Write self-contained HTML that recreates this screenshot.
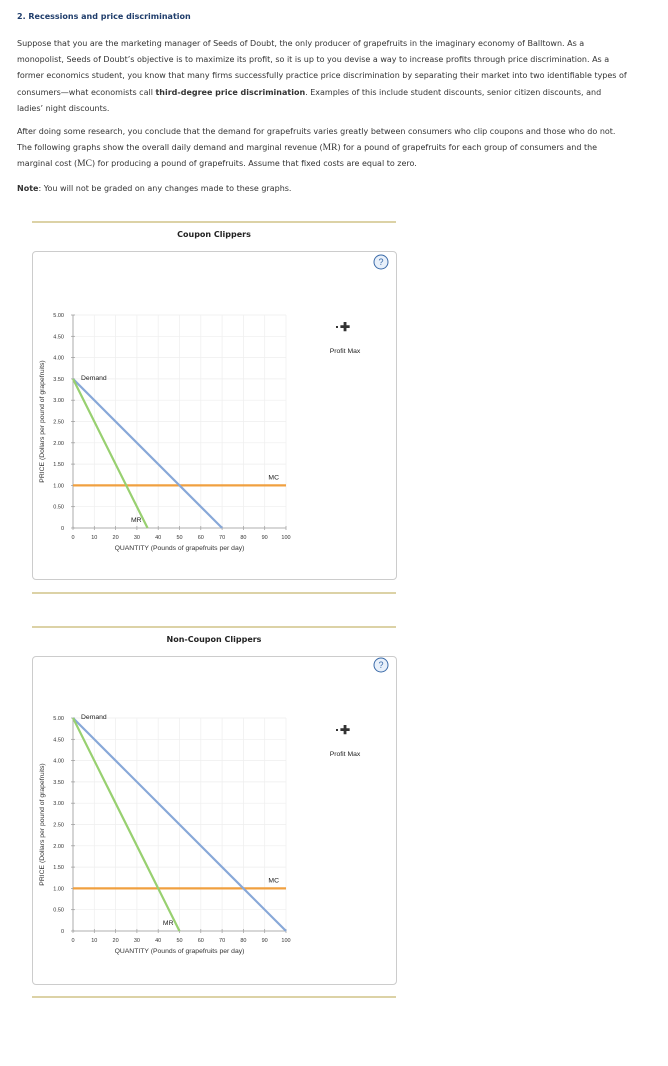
<!DOCTYPE html>
<html><head><meta charset="utf-8">
<style>
body{margin:0;background:#fff;font-family:"DejaVu Sans",Verdana,sans-serif;width:668px;height:1066px;position:relative;overflow:hidden}
.t{position:absolute;left:17px;font-size:8px;color:#333;line-height:16.2px;white-space:nowrap}
h2{position:absolute;left:17px;top:12px;margin:0;font-size:8px;color:#1f3d6b;font-weight:bold}
.sep{position:absolute;left:32px;width:364px;height:0;border-top:2px solid #dcd2a6}
.box{position:absolute;left:32px;width:363px;border:1px solid #ccc;border-radius:4px}
.title{position:absolute;left:32px;width:364px;text-align:center;font-size:8px;font-weight:bold;color:#222}
.m{font-family:'Liberation Serif',serif;font-size:9.5px}
svg{position:absolute;left:0;top:0}
</style></head><body>
<h2>2. Recessions and price discrimination</h2>
<div class="t" style="top:36px">Suppose that you are the marketing manager of Seeds of Doubt, the only producer of grapefruits in the imaginary economy of Balltown. As a<br>monopolist, Seeds of Doubt’s objective is to maximize its profit, so it is up to you devise a way to increase profits through price discrimination. As a<br>former economics student, you know that many firms successfully practice price discrimination by separating their market into two identifiable types of<br>consumers—what economists call <b>third-degree price discrimination</b>. Examples of this include student discounts, senior citizen discounts, and<br>ladies’ night discounts.</div>
<div class="t" style="top:124px">After doing some research, you conclude that the demand for grapefruits varies greatly between consumers who clip coupons and those who do not.<br>The following graphs show the overall daily demand and marginal revenue (<span class="m">MR</span>) for a pound of grapefruits for each group of consumers and the<br>marginal cost (<span class="m">MC</span>) for producing a pound of grapefruits. Assume that fixed costs are equal to zero.</div>
<div class="t" style="top:181px"><b>Note</b>: You will not be graded on any changes made to these graphs.</div>

<div class="sep" style="top:221px"></div>
<div class="title" style="top:230px">Coupon Clippers</div>
<div class="box" style="top:251px;height:327px"></div>
<div class="sep" style="top:592px"></div>
<div class="sep" style="top:626px"></div>
<div class="title" style="top:635px">Non-Coupon Clippers</div>
<div class="box" style="top:656px;height:327px"></div>
<div class="sep" style="top:996px"></div>
<svg id="s" width="668" height="1066" font-family="Liberation Sans, sans-serif"></svg>
<script>
const xTicks=[0,10,20,30,40,50,60,70,80,90,100];
const yTicks=[0,0.5,1,1.5,2,2.5,3,3.5,4,4.5,5];
const c1Demand=[[0,3.5],[70,0]];
const c1MR=[[0,3.5],[35,0]];
const c1MC=1;
const c2Demand=[[0,5],[100,0]];
const c2MR=[[0,5],[50,0]];
const c2MC=1;
const S=document.getElementById('s');
function el(t,a,txt){const e=document.createElementNS('http://www.w3.org/2000/svg',t);for(const k in a)e.setAttribute(k,a[k]);if(txt!=null)e.textContent=txt;S.appendChild(e);return e;}
function chart(top,dem,mr,mc){
  const x0=73,x1=286,y0=top+213,yT=top;
  const X=v=>x0+(x1-x0)*v/100, Y=v=>y0-(y0-yT)*v/5;
  xTicks.forEach(v=>{let l=el('line',{x1:X(v),x2:X(v),y1:yT,y2:y0,stroke:'#eee','stroke-width':0.7});
    
    
    let tk=el('line',{x1:X(v),x2:X(v),y1:y0-2,y2:y0+2,stroke:'#999','stroke-width':0.7});
    
    
    let t=el('text',{x:X(v),y:y0+11,'font-size':5.5,'text-anchor':'middle',fill:'#333'},String(v));
    
    });
  yTicks.forEach(v=>{let l=el('line',{x1:x0,x2:x1,y1:Y(v),y2:Y(v),stroke:'#eee','stroke-width':0.7});
    
    
    let tk=el('line',{x1:x0-2,x2:x0+2,y1:Y(v),y2:Y(v),stroke:'#999','stroke-width':0.7});
    
    
    let t=el('text',{x:x0-9,y:Y(v)+2,'font-size':5.5,'text-anchor':'end',fill:'#333'},v===0?'0':v.toFixed(2));
    
    });
  let ax=el('line',{x1:x0,x2:x0,y1:yT,y2:y0,stroke:'#999','stroke-width':0.8});
  
  
  let ax2=el('line',{x1:x0,x2:x1,y1:y0,y2:y0,stroke:'#999','stroke-width':0.8});
  
  
  let xt=el('text',{x:(x0+x1)/2,y:y0+22,'font-size':6.8,'text-anchor':'middle',fill:'#333'},'QUANTITY (Pounds of grapefruits per day)');
  
  
  let yc=(yT+y0)/2;
  let yt=el('text',{x:44,y:yc,'font-size':6.8,'text-anchor':'middle',fill:'#333',transform:`rotate(-90 44 ${yc})`},'PRICE (Dollars per pound of grapefruits)');
  
  
  let m=el('line',{x1:X(0),x2:X(100),y1:Y(mc),y2:Y(mc),stroke:'#f0a040','stroke-width':2.2});
  
  
  let d=el('line',{x1:X(dem[0][0]),y1:Y(dem[0][1]),x2:X(dem[1][0]),y2:Y(dem[1][1]),stroke:'#88a8d8','stroke-width':2.2});
  
  
  let r=el('line',{x1:X(mr[0][0]),y1:Y(mr[0][1]),x2:X(mr[1][0]),y2:Y(mr[1][1]),stroke:'#98d070','stroke-width':2.2});
  
  
  let dl=el('text',{x:X(dem[0][0])+8,y:Y(dem[0][1])+1,'font-size':6.8,fill:'#222'},'Demand');
  
  
  let ml=el('text',{x:X(mr[1][0])-6,y:Y(0)-6,'font-size':6.8,'text-anchor':'end',fill:'#222'},'MR');
  
  
  let cl=el('text',{x:X(100)-7,y:Y(mc)-6,'font-size':6.8,'text-anchor':'end',fill:'#222'},'MC');
  
  
  let h=el('circle',{cx:381,cy:top-53,r:7,fill:'#e8f0fa',stroke:'#3a6aa8','stroke-width':1});
  
  
  let ht=el('text',{x:381,y:top-50,'font-size':9,'text-anchor':'middle',fill:'#3a6aa8'},'?');
  
  
  let px=el('text',{x:345,y:top+16,'font-size':12,'font-weight':'bold','text-anchor':'middle',fill:'#333'},'✚');
  
  
  let pd=el('rect',{x:336,y:top+11,width:2,height:2,fill:'#333'});
  
  
  let pl=el('text',{x:345,y:top+38,'font-size':6.8,'text-anchor':'middle',fill:'#222'},'Profit Max');
  
  
}
chart(315,c1Demand,c1MR,c1MC);
chart(718,c2Demand,c2MR,c2MC);
</script>
</body></html>
